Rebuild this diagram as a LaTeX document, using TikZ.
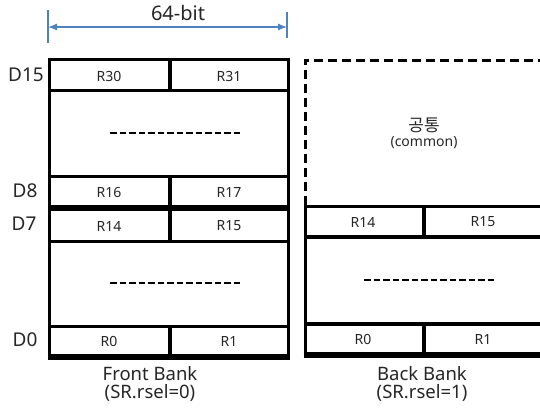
\documentclass[tikz,border=0pt]{standalone}
\usepackage{fontspec}
\setmainfont{Noto Sans}
\newfontfamily\krfont{Noto Sans CJK KR}
\usetikzlibrary{arrows.meta}
\definecolor{dimblue}{RGB}{79,129,189}
\begin{document}
\begin{tikzpicture}[x=1pt,y=-1pt,
  thinline/.style={line width=3pt},
  thickline/.style={line width=5.5pt},
  divline/.style={line width=4pt},
  dotline/.style={line width=2pt, dash pattern=on 6.5pt off 3pt},
  reg/.style={font=\fontsize{14}{15}\selectfont, text=black!85},
  dlabel/.style={font=\fontsize{19}{20}\selectfont, text=black!85},
  banklabel/.style={font=\fontsize{18.5}{18}\selectfont, align=center, text=black!85}]
\clip (0,0) rectangle (540,408);
\fill[white] (0,0) rectangle (540,408);

% 64-bit dimension
\coordinate (tl1) at (48,10);
\coordinate (tl2) at (48,43);
\coordinate (tr1) at (287,12);
\coordinate (tr2) at (287,38);
\coordinate (al) at (48,27);
\coordinate (ar) at (287,27);
\draw[dimblue, line width=1.2pt] (tl1) -- (tl2);
\draw[dimblue, line width=1.2pt] (tr1) -- (tr2);
\draw[dimblue, line width=1.2pt, {Latex[length=9pt,width=7pt]}-{Latex[length=9pt,width=7pt]}] (al) -- (ar);
\node[font=\fontsize{20}{22}\selectfont, text=black!85] (bits) at (178,13) {64-bit};

% Front bank
\draw[thinline] (49,59) rectangle (288,357);
\draw[thinline] (49,90) -- (288,90);
\draw[thinline] (49,176) -- (288,176);
\draw[thickline] (49,208) -- (288,208);
\draw[thinline] (49,241) -- (288,241);
\draw[thinline] (49,326) -- (288,326);
\draw[thickline] (47.5,357) -- (289.5,357);
\draw[divline] (170,59) -- (170,90);
\draw[divline] (170,176) -- (170,241);
\draw[divline] (170,326) -- (170,357);

\node[reg] (r30) at (109,76) {R30};
\node[reg] (r31) at (229,76) {R31};
\coordinate (fd1a) at (110,133);
\coordinate (fd1b) at (242,133);
\draw[dotline] (fd1a) -- (fd1b);
\node[reg] (r16) at (109,192) {R16};
\node[reg] (r17) at (229,192) {R17};
\node[reg] (fr14) at (109,226) {R14};
\node[reg] (fr15) at (229,226) {R15};
\coordinate (fd2a) at (110,283);
\coordinate (fd2b) at (242,283);
\draw[dotline] (fd2a) -- (fd2b);
\node[reg] (fr0) at (109,341) {R0};
\node[reg] (fr1) at (229,341) {R1};

\node[dlabel] (d15) at (26,75) {D15};
\node[dlabel] (d8) at (25,191) {D8};
\node[dlabel] (d7) at (24,224) {D7};
\node[dlabel] (d0) at (25,340) {D0};

\node[banklabel] (front) at (150,384) {Front Bank\\(SR.rsel=0)};

% Back bank
\draw[line width=3pt, dash pattern=on 9pt off 5pt] (305,205) -- (305,60) -- (545,60);
\draw[thinline] (305,206) -- (545,206);
\draw[thinline] (305,205) -- (305,356);
\draw[divline] (305,237) -- (545,237);
\draw[divline] (305,324) -- (545,324);
\draw[thickline] (303.5,355) -- (545,355);
\draw[divline] (424,206) -- (424,237);
\draw[divline] (424,324) -- (424,355);

\node[font=\krfont\fontsize{17}{18}\selectfont, text=black!85] (kong) at (424,125) {공통};
\node[font=\fontsize{14}{15}\selectfont, text=black!85] (common) at (424,143) {(common)};
\node[reg] (br14) at (363,222) {R14};
\node[reg] (br15) at (483,222) {R15};
\coordinate (bda) at (364,280);
\coordinate (bdb) at (497,280);
\draw[dotline] (bda) -- (bdb);
\node[reg] (br0) at (363,339) {R0};
\node[reg] (br1) at (483,339) {R1};

\node[banklabel] (back) at (422,384) {Back Bank\\(SR.rsel=1)};
\end{tikzpicture}
\end{document}
